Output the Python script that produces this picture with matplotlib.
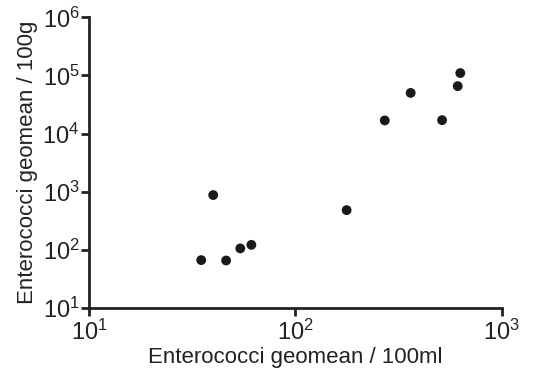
import numpy as np
import matplotlib
matplotlib.use("Agg")
import matplotlib.pyplot as plt
from matplotlib.ticker import LogLocator, NullLocator

plt.rcParams['font.family'] = ['Liberation Sans', 'DejaVu Sans']
plt.rcParams['mathtext.fontset'] = 'custom'
plt.rcParams['mathtext.rm'] = 'Liberation Sans'
plt.rcParams['mathtext.it'] = 'Liberation Sans:italic'
plt.rcParams['mathtext.bf'] = 'Liberation Sans:bold'

# enterococci geomean, water (per 100ml) vs sand (per 100g)
water = [34.9, 39.9, 46.1, 54.0, 61.1, 177, 271, 362, 514, 612, 630]
sand = [66, 871, 65, 105, 121, 479, 16800, 50000, 17000, 65500, 110000]

fs = 16
fs_t = 17
fig = plt.figure(figsize=(5.51, 3.78), dpi=100)
ax = fig.add_axes([0.162, 0.186, 0.7485, 0.768])
ax.scatter(water, sand, s=50, color="#1a1a1a", edgecolors="none", zorder=3)

ax.set_xscale("log")
ax.set_yscale("log")
ax.set_xlim(10, 1000)
ax.set_ylim(10, 1e6)
ax.xaxis.set_major_locator(LogLocator(base=10, numticks=10))
ax.yaxis.set_major_locator(LogLocator(base=10, numticks=10))
ax.xaxis.set_minor_locator(NullLocator())
ax.yaxis.set_minor_locator(NullLocator())

for s in ["top", "right"]:
    ax.spines[s].set_visible(False)
for s in ["left", "bottom"]:
    ax.spines[s].set_linewidth(2.0)
    ax.spines[s].set_color("#222222")
ax.tick_params(width=2.0, length=6, color="#222222", labelsize=fs_t,
               labelcolor="#222222", pad=1)
ax.tick_params(axis="x", pad=3)

ax.set_xlabel("Enterococci geomean / 100ml", fontsize=fs, color="#222222", labelpad=1)
ax.set_ylabel("Enterococci geomean / 100g", fontsize=fs, color="#222222", labelpad=3)

fig.savefig("out.png", dpi=100)
